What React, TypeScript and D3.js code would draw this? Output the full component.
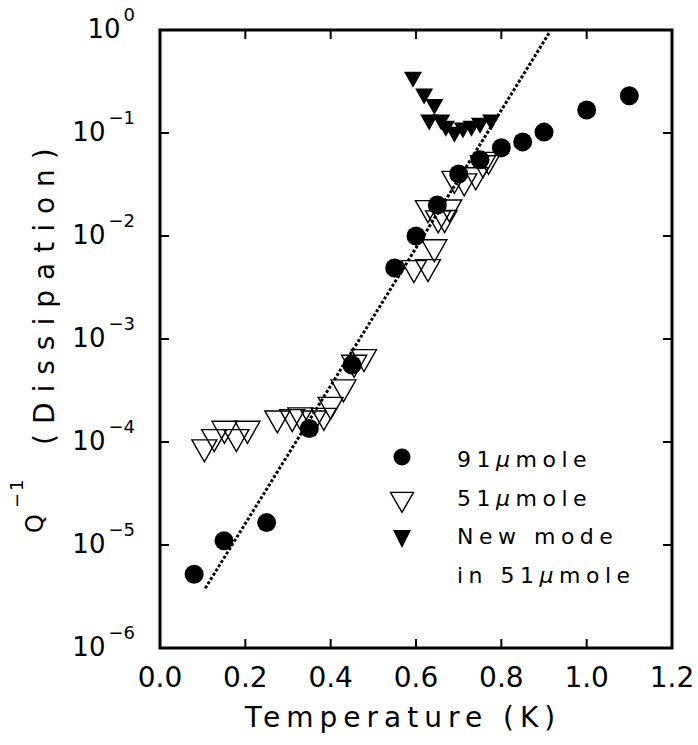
import * as d3 from "d3";

// 91 umole sample (filled circles): [T (K), Q^-1]
const mole91: [number, number][] = [
  [0.08, 5.2e-6], [0.15, 1.1e-5], [0.25, 1.65e-5], [0.35, 1.35e-4],
  [0.45, 5.6e-4], [0.55, 4.9e-3], [0.6, 1.0e-2], [0.65, 2.0e-2],
  [0.7, 4.0e-2], [0.75, 5.5e-2], [0.8, 7.2e-2], [0.85, 8.2e-2],
  [0.9, 1.02e-1], [1.0, 1.67e-1], [1.1, 2.3e-1],
];

// 51 umole sample (open triangles)
const mole51: [number, number][] = [
  [0.104, 8.9e-5], [0.127, 1.12e-4], [0.151, 1.35e-4], [0.179, 1.12e-4], [0.205, 1.35e-4],
  [0.275, 1.7e-4], [0.31, 1.75e-4], [0.329, 1.82e-4], [0.36, 1.7e-4], [0.384, 1.8e-4],
  [0.4, 2.3e-4], [0.43, 3.4e-4], [0.455, 5.9e-4], [0.478, 6.7e-4],
  [0.595, 4.9e-3], [0.628, 5.0e-3], [0.643, 7.8e-3], [0.628, 1.87e-2], [0.652, 1.49e-2],
  [0.667, 1.5e-2], [0.678, 1.9e-2], [0.69, 3.6e-2], [0.713, 3.4e-2], [0.74, 3.9e-2],
  [0.757, 5.1e-2], [0.77, 5.5e-2],
];

// new mode in 51 umole (filled triangles)
const newMode: [number, number][] = [
  [0.593, 0.35], [0.619, 0.24], [0.643, 0.19], [0.631, 0.134], [0.659, 0.134],
  [0.67, 0.117], [0.69, 0.102], [0.71, 0.112], [0.73, 0.117], [0.75, 0.125], [0.776, 0.134],
];

// dotted fit line end points
const fitLine: [number, number][] = [[0.106, 3.8e-6], [0.913, 0.95]];

const xTicks = [0, 0.2, 0.4, 0.6, 0.8, 1.0, 1.2];
const yExps = [0, -1, -2, -3, -4, -5, -6];

const legendItems = ["91", "51", "New mode", "in 51"];

const W = 698;
const H = 745;
const FONT = "DejaVu Sans";

export default function App() {
  const x = d3.scaleLinear().domain([0, 1.2]).range([160, 672]);
  const y = d3.scaleLog().domain([1e-6, 1]).range([648, 30]);
  const [x0, x1] = x.range();
  const [y0, y1] = y.range();

  const line = d3.line<[number, number]>().x(d => x(d[0])).y(d => y(d[1]));

  // downward triangle centred on (cx, cy)
  const tri = (cx: number, cy: number, w: number, h: number) =>
    `M${cx - w / 2},${cy - h / 3}L${cx + w / 2},${cy - h / 3}L${cx},${cy + (2 * h) / 3}Z`;

  const tick = 9;

  return (
    <svg width={W} height={H} style={{ position: "absolute", left: 0, top: 0, background: "#fff" }}
      fontFamily={FONT}>
      <rect width={W} height={H} fill="#fff" />

      {/* fit line */}
      <path d={line(fitLine) ?? ""} fill="none" stroke="#000" strokeWidth={3} strokeDasharray="3,2" />

      {/* open triangles */}
      {mole51.map((d, i) => (
        <path key={"o" + i} d={tri(x(d[0]), y(d[1]), 25, 22)} fill="none" stroke="#000" strokeWidth={1.4} />
      ))}

      {/* filled circles */}
      {mole91.map((d, i) => (
        <circle key={"c" + i} cx={x(d[0])} cy={y(d[1])} r={9.5} fill="#000" />
      ))}

      {/* filled triangles */}
      {newMode.map((d, i) => (
        <path key={"f" + i} d={tri(x(d[0]), y(d[1]), 18, 16)} fill="#000" />
      ))}

      {/* frame */}
      <rect x={x0} y={y1} width={x1 - x0} height={y0 - y1} fill="none" stroke="#000" strokeWidth={3} />

      {/* x ticks */}
      {xTicks.map(t => (
        <g key={"xt" + t}>
          <line x1={x(t)} x2={x(t)} y1={y0} y2={y0 - tick} stroke="#000" strokeWidth={2} />
          <line x1={x(t)} x2={x(t)} y1={y1} y2={y1 + tick} stroke="#000" strokeWidth={2} />
          <text x={x(t)} y={687} fontSize={28} textAnchor="middle">
            {t.toFixed(1)}
          </text>
        </g>
      ))}

      {/* y ticks */}
      {yExps.map(e => (
        <g key={"yt" + e}>
          <line x1={x0} x2={x0 + tick} y1={y(10 ** e)} y2={y(10 ** e)} stroke="#000" strokeWidth={2} />
          <line x1={x1} x2={x1 - tick} y1={y(10 ** e)} y2={y(10 ** e)} stroke="#000" strokeWidth={2} />
          <text x={x0 - 25} y={y(10 ** e) + 8} fontSize={26} textAnchor="end">
            <tspan>10</tspan>
            <tspan dx={3} dy={-17} fontSize={18}>{e === 0 ? "0" : "\u2212" + -e}</tspan>
          </text>
        </g>
      ))}

      {/* axis titles */}
      <text x={403} y={727} fontSize={28} textAnchor="middle" letterSpacing={6}>
        Temperature (K)
      </text>
      <text transform="translate(54,558) rotate(-90)" fontSize={28}>
        <tspan x={25} y={-11} fontSize={24}>Q</tspan>
        <tspan x={50} y={-31} fontSize={18} letterSpacing={2}>{"\u22121"}</tspan>
        <tspan x={113} y={0} letterSpacing={10}>(Dissipation)</tspan>
      </text>

      {/* legend */}
      <g>
        <circle cx={402} cy={457} r={8.5} fill="#000" />
        <path d={tri(402, 499, 23, 20)} fill="none" stroke="#000" strokeWidth={1.4} />
        <path d={tri(402, 536, 18, 18)} fill="#000" />
        {legendItems.map((s, i) => (
          <text key={"l" + i} x={457} y={467 + i * 38.5} fontSize={22} letterSpacing={5.5}>
            {s === "New mode" ? s : (
              <>
                <tspan>{s}</tspan>
                <tspan fontStyle="italic">{"\u03bc"}</tspan>
                <tspan>mole</tspan>
              </>
            )}
          </text>
        ))}
      </g>
    </svg>
  );
}
